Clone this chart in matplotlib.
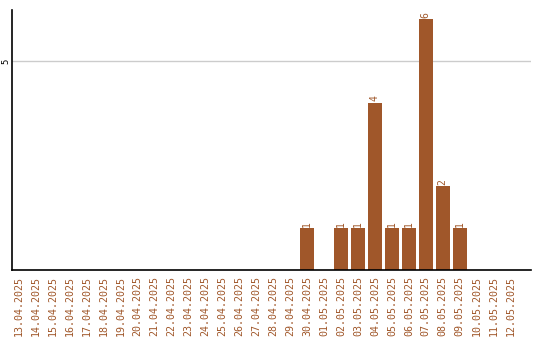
import matplotlib
matplotlib.use("Agg")
import matplotlib.pyplot as plt

dates = ["13.04.2025","14.04.2025","15.04.2025","16.04.2025","17.04.2025","18.04.2025",
         "19.04.2025","20.04.2025","21.04.2025","22.04.2025","23.04.2025","24.04.2025",
         "25.04.2025","26.04.2025","27.04.2025","28.04.2025","29.04.2025","30.04.2025",
         "01.05.2025","02.05.2025","03.05.2025","04.05.2025","05.05.2025","06.05.2025",
         "07.05.2025","08.05.2025","09.05.2025","10.05.2025","11.05.2025","12.05.2025"]
values = [0,0,0,0,0,0,0,0,0,0,0,0,0,0,0,0,0,1,0,1,1,4,1,1,6,2,1,0,0,0]

color = "#A0572A"
fig = plt.figure(figsize=(5.4, 3.4), dpi=100)
ax = fig.add_axes([12/540, 1-270/340, 519/540, 260/340])
x = list(range(len(dates)))
ax.bar(x, values, width=0.8, color=color, zorder=2)
for xi, v in zip(x, values):
    if v > 0:
        ax.text(xi, v + 0.04, str(v), rotation=90, ha="center", va="bottom",
                color=color, fontsize=7, family="DejaVu Sans Mono")
ax.set_xlim(-0.4, 30.2)
ax.set_ylim(0, 6.22)
ax.set_yticks([5])
ax.set_yticklabels(["5"], rotation=90, va="center", fontsize=6.5, family="DejaVu Sans Mono")
ax.yaxis.grid(True, color="#cccccc", linewidth=1, zorder=0)
ax.tick_params(axis="y", length=0, pad=1.5)
ax.set_xticks(x)
ax.set_xticklabels(dates, rotation=90, fontsize=7.2, color=color, family="DejaVu Sans Mono")
ax.tick_params(axis="x", length=0, pad=4.5)
for s in ["top", "right"]:
    ax.spines[s].set_visible(False)
ax.spines["left"].set_linewidth(1.2)
ax.spines["bottom"].set_linewidth(1.2)
fig.savefig("out.png", dpi=100)
